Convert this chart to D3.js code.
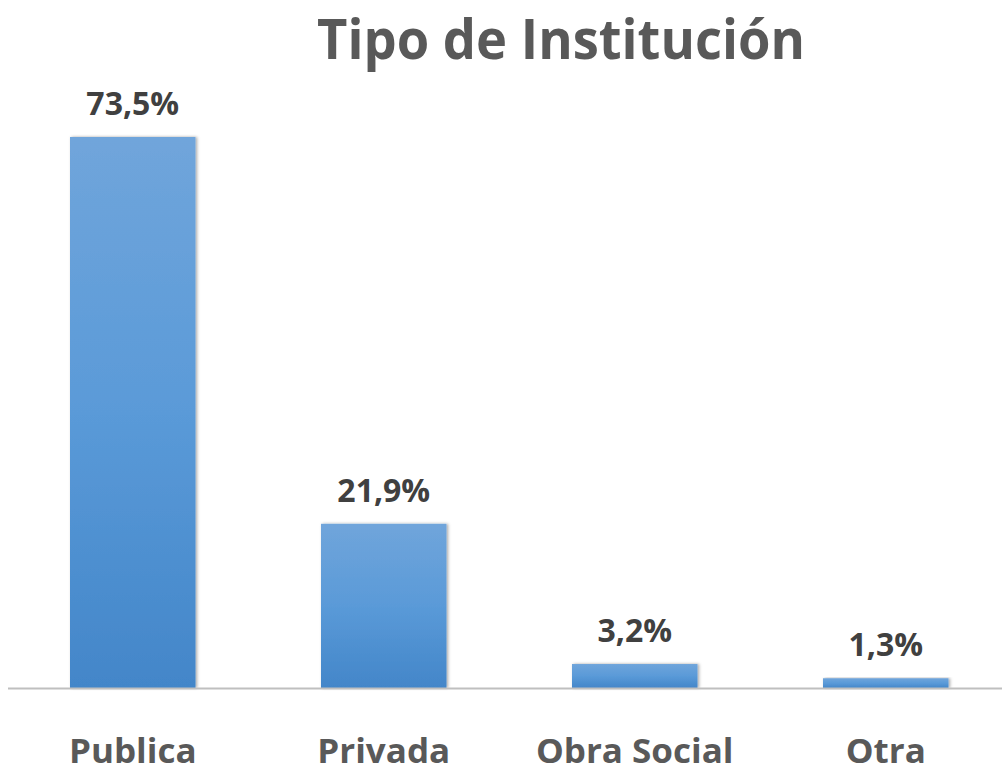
<!DOCTYPE html>
<html><head><meta charset="utf-8">
<script src="https://cdn.jsdelivr.net/npm/d3@7"></script>
<style>body{margin:0;background:#fff;}svg{display:block;}</style>
</head><body>
<script>
const categories = ["Publica", "Privada", "Obra Social", "Otra"];
const values = [73.5, 21.9, 3.2, 1.3];
const valueLabels = ["73,5%", "21,9%", "3,2%", "1,3%"];
const title = "Tipo de Institución";

const W = 1002, H = 773;
const svg = d3.select("body").append("svg").attr("width", W).attr("height", H);
const defs = svg.append("defs");
const grad = defs.append("linearGradient").attr("id", "g").attr("x1", 0).attr("y1", 0).attr("x2", 0).attr("y2", 1);
grad.append("stop").attr("offset", "0%").attr("stop-color", "#70a5db");
grad.append("stop").attr("offset", "50%").attr("stop-color", "#5a9ad8");
grad.append("stop").attr("offset", "100%").attr("stop-color", "#4386c9");
const f = defs.append("filter").attr("id", "sh").attr("x", "-10%").attr("y", "-10%").attr("width", "130%").attr("height", "130%");
f.append("feDropShadow").attr("dx", 1.5).attr("dy", 0).attr("stdDeviation", 1.5).attr("flood-color", "#000").attr("flood-opacity", 0.35);

const baseY = 688;
const x = d3.scaleBand().domain(categories).range([7.25, 1011.25]).paddingInner(0.5).paddingOuter(0.25);
const y = d3.scaleLinear().domain([0, 73.5]).range([baseY, 137]);

svg.append("text").attr("transform", "translate(561,59) scale(0.955,1)").attr("text-anchor", "middle")
  .attr("font-family", "'Open Sans', sans-serif").attr("font-weight", "bold").attr("font-size", 55)
  .attr("fill", "#595959").text(title);

svg.selectAll("rect.bar").data(values).join("rect").attr("class", "bar")
  .attr("x", (d, i) => x(categories[i])).attr("width", x.bandwidth())
  .attr("y", d => y(d)).attr("height", d => baseY - y(d))
  .attr("fill", "url(#g)").attr("filter", "url(#sh)");

svg.append("line").attr("x1", 8).attr("x2", 1002).attr("y1", baseY + 0.5).attr("y2", baseY + 0.5)
  .attr("stroke", "#bfbfbf").attr("stroke-width", 2);

svg.selectAll("text.val").data(values).join("text").attr("class", "val")
  .attr("x", (d, i) => x(categories[i]) + x.bandwidth() / 2).attr("y", d => y(d) - 22)
  .attr("text-anchor", "middle").attr("font-family", "'Open Sans', sans-serif").attr("font-weight", "bold")
  .attr("font-size", 32).attr("fill", "#404040").text((d, i) => valueLabels[i]);

const ax = svg.append("g").attr("transform", `translate(0,${baseY})`)
  .call(d3.axisBottom(x).tickSize(0).tickPadding(0));
ax.select(".domain").remove();
ax.selectAll("text").attr("dy", 0).attr("y", 75).attr("font-family", "'Open Sans', sans-serif")
  .attr("font-weight", "bold").attr("font-size", 34).attr("fill", "#595959")
  .attr("transform", d => `translate(${x(d) + x.bandwidth() / 2},0) scale(1.03,1) translate(${-(x(d) + x.bandwidth() / 2)},0)`);
ax.selectAll(".tick").each(function(d) {
  const t = d3.select(this).select("text");
  t.attr("transform", "scale(1.03,1)");
});
</script>
</body></html>
